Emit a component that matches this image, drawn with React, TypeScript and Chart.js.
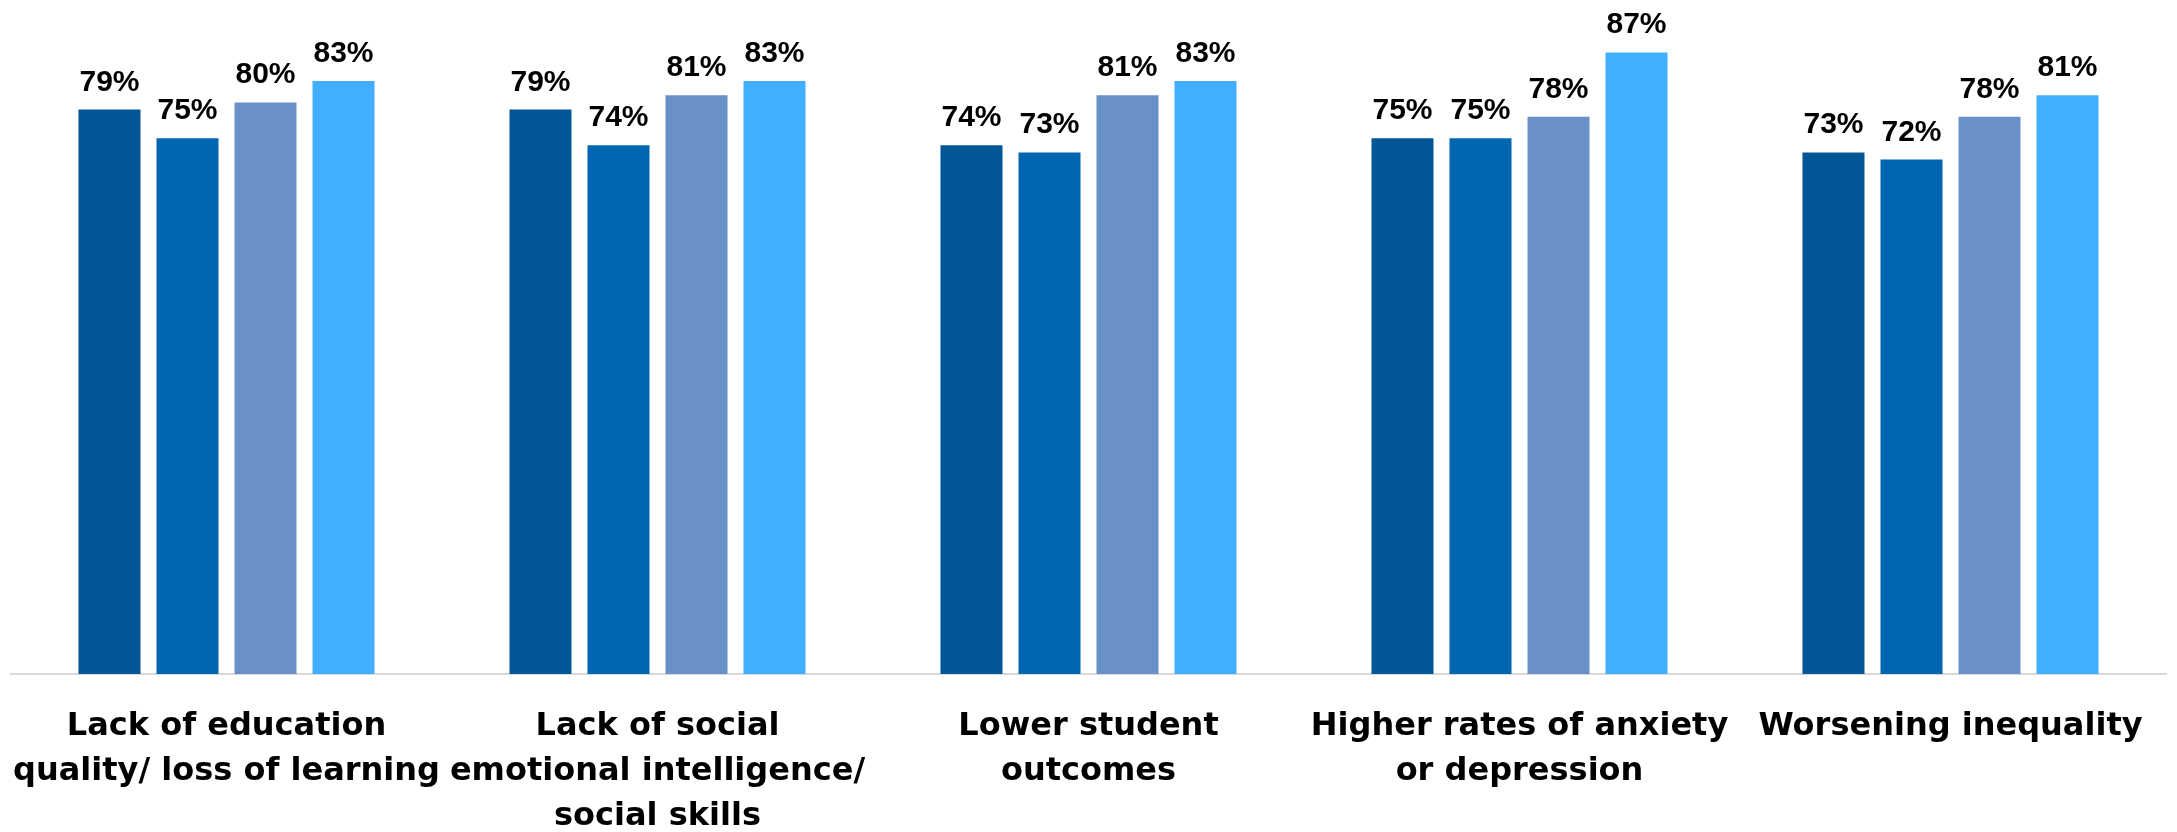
import React, { useEffect, useRef } from "react";
import { Chart, registerables } from "chart.js";

Chart.register(...registerables);

const categories: string[][] = [
  ["Lack of education", "quality/ loss of learning"],
  ["Lack of social", "emotional intelligence/", "social skills"],
  ["Lower student", "outcomes"],
  ["Higher rates of anxiety", "or depression"],
  ["Worsening inequality"],
];

const seriesNames = ["Series 1", "Series 2", "Series 3", "Series 4"];
const series1 = [79, 79, 74, 75, 73];
const series2 = [75, 74, 73, 75, 72];
const series3 = [80, 81, 81, 78, 78];
const series4 = [83, 83, 83, 87, 81];
const seriesColors = ["#035696", "#0066B2", "#6A90CA", "#42AEFF"];

const valueLabelPlugin = {
  id: "valueLabels",
  afterDatasetsDraw(chart: any) {
    const ctx = chart.ctx;
    ctx.save();
    ctx.fillStyle = "#000000";
    ctx.font = "bold 30px 'Liberation Sans'";
    ctx.textAlign = "center";
    ctx.textBaseline = "alphabetic";
    chart.data.datasets.forEach((ds: any, di: number) => {
      const meta = chart.getDatasetMeta(di);
      meta.data.forEach((el: any, i: number) => {
        ctx.fillText(`${ds.data[i]}%`, el.x, el.y - 19);
      });
    });
    ctx.restore();
  },
};

export default function App() {
  const canvasRef = useRef<HTMLCanvasElement | null>(null);

  useEffect(() => {
    if (!canvasRef.current) return;
    const allSeries = [series1, series2, series3, series4];
    const chart = new Chart(canvasRef.current, {
      type: "bar",
      data: {
        labels: categories,
        datasets: allSeries.map((d, i) => ({
          label: seriesNames[i],
          data: d,
          backgroundColor: seriesColors[i],
          borderWidth: 0,
          categoryPercentage: 0.724,
          barPercentage: 0.795,
        })),
      },
      options: {
        responsive: false,
        animation: false,
        layout: { padding: { top: 31, left: 11, right: 11, bottom: 0 } },
        plugins: {
          legend: { display: false },
          tooltip: { enabled: false },
        },
        scales: {
          x: {
            grid: { display: false, drawTicks: false, tickLength: 0 },
            border: { display: true, color: "#D9D9D9", width: 2 },
            ticks: {
              color: "#000000",
              font: { family: "'DejaVu Sans'", size: 32, weight: "bold", lineHeight: 1.406 },
              padding: 30,
              maxRotation: 0,
              minRotation: 0,
              autoSkip: false,
            },
            afterFit: (scale: any) => {
              scale.height = 158;
              scale.paddingLeft = 0;
              scale.paddingRight = 0;
            },
          },
          y: {
            display: false,
            min: 0,
            max: 90,
          },
        },
      },
      plugins: [valueLabelPlugin],
    });
    return () => chart.destroy();
  }, []);

  return (
    <div style={{ position: "absolute", left: 0, top: 0, width: 2177, height: 832, background: "#ffffff" }}>
      <canvas ref={canvasRef} width={2177} height={832} />
    </div>
  );
}
